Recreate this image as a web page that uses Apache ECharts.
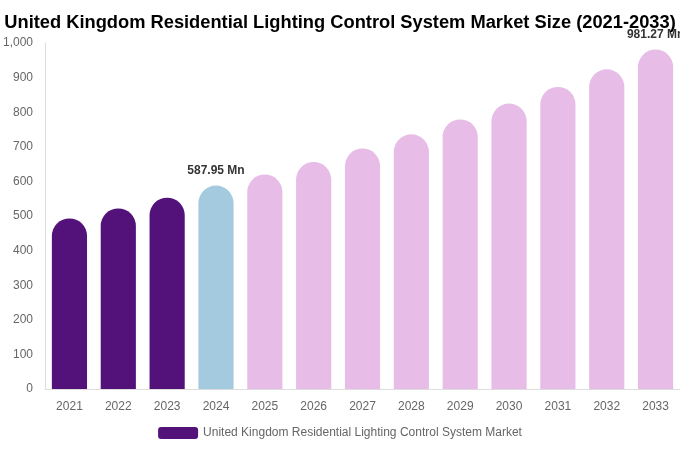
<!DOCTYPE html>
<html><head><meta charset="utf-8">
<script src="https://cdn.jsdelivr.net/npm/echarts@6/dist/echarts.min.js"></script>
<style>html,body{margin:0;padding:0;background:#fff}#c{width:680px;height:450px}</style>
</head><body><div id="c"></div>
<script>
const title = "United Kingdom Residential Lighting Control System Market Size (2021-2033)";
const seriesName = "United Kingdom Residential Lighting Control System Market";
const years = ["2021","2022","2023","2024","2025","2026","2027","2028","2029","2030","2031","2032","2033"];
const values = [493, 522, 553, 587.95, 620, 656, 695, 736, 779, 825, 873, 924, 981.27];
const labelledYears = ["2024","2033"];
const colHist = "#53127a", colBase = "#a3cade", colFore = "#e7bde8";

const chart = echarts.init(document.getElementById('c'));
chart.setOption({
  animation:false,
  title:{text:title,left:'center',top:9,textStyle:{fontFamily:"Liberation Sans, Arial, sans-serif",fontWeight:'bold',fontSize:18.3,color:'#000'}},
  grid:{left:44,right:0,top:43,bottom:61},
  legend:{bottom:6,left:'center',itemWidth:40,itemHeight:12,itemGap:6,
    textStyle:{color:'#666',fontSize:12,fontFamily:'Liberation Sans, Arial, sans-serif'},
    data:[{name:seriesName,itemStyle:{color:colHist}}]},
  xAxis:{type:'category',data:years,axisTick:{show:false},axisLine:{lineStyle:{color:'#ddd'}},
    axisLabel:{color:'#666',fontSize:12,margin:12,fontFamily:'Liberation Sans, Arial, sans-serif'}},
  yAxis:{type:'value',min:0,max:1000,interval:100,splitLine:{show:false},
    axisLine:{show:true,lineStyle:{color:'#ddd'}},
    axisLabel:{color:'#666',fontSize:12,margin:12,fontFamily:'Liberation Sans, Arial, sans-serif'}},
  series:[{name:seriesName,type:'bar',barCategoryGap:'28%',
    data:values.map((v,i)=>({value:v,
      itemStyle:{color: i<3?colHist:(i===3?colBase:colFore),borderRadius:[18,18,0,0]},
      label:{show:labelledYears.includes(years[i]),position:'top',distance:9,
        formatter:p=>p.value+' Mn',fontWeight:'bold',fontSize:12,color:'#333',fontFamily:'Liberation Sans, Arial, sans-serif'}}))
  }]
});
</script></body></html>
